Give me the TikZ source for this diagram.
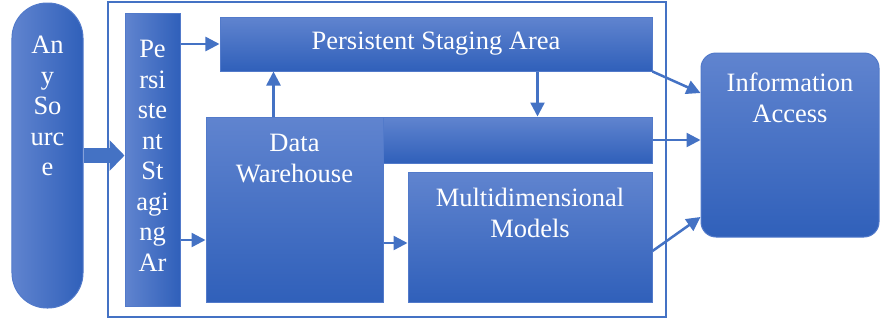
\documentclass[tikz,border=0pt]{standalone}
\usepackage{fontspec}
\setmainfont{Liberation Serif}
\usetikzlibrary{arrows.meta}
\definecolor{boxtop}{RGB}{96,132,207}
\definecolor{boxbot}{RGB}{48,96,186}
\definecolor{boxedge}{RGB}{82,122,202}
\definecolor{linkblue}{RGB}{68,114,196}

\begin{document}
\begin{tikzpicture}[x=1bp, y=-1bp,
  box/.style={draw=boxedge, line width=1bp, top color=boxtop, bottom color=boxbot, inner sep=0pt},
  sidebox/.style={draw=boxedge, line width=1bp, left color=boxtop, right color=boxbot, inner sep=0pt},
  txt/.style={text=white, align=center, font=\fontsize{26.5bp}{30.5bp}\selectfont, inner sep=0pt},
  link/.style={draw=linkblue, line width=2.5bp, -{Triangle[length=14bp, width=14bp]}}]
\useasboundingbox (0,0) rectangle (880,320);
\draw[linkblue, line width=1.5bp](108, 2) rectangle (666, 317);
\node[sidebox, rounded corners=35bp, minimum width=71bp, minimum height=305bp] (src) at (47.5, 155.5) {};
\node[sidebox, minimum width=55bp, minimum height=293bp] (psv) at (152.5, 159.5) {};
\node[box, txt, minimum width=432bp, minimum height=54bp] (psa) at (436, 44) {Persistent Staging Area};
\node[box, minimum width=269bp, minimum height=46bp] (bar) at (517.5, 140) {};
\node[box, minimum width=177bp, minimum height=185bp] (dw) at (294.5, 209.5) {};
\node[box, minimum width=244bp, minimum height=130bp] (mm) at (530, 237) {};
\node[box, rounded corners=15bp, minimum width=178bp, minimum height=184bp] (ia) at (790, 145) {};
\node[txt, anchor=base] (srctext) at ([yshift=-173bp]src.north) {An\\y\\So\\urc\\e};
\node[txt, anchor=base] (psvtext) at ([yshift=-258.5bp]psv.north) {Pe\\rsi\\ste\\nt\\St\\agi\\ng\\Ar};
\node[txt, anchor=base] (dwtext) at ([yshift=-65.5bp]dw.north) {Data\\Warehouse};
\node[txt, anchor=base] (mmtext) at ([yshift=-65.5bp]mm.north) {Multidimensional\\Models};
\node[txt, anchor=base] (iatext) at ([yshift=-69.5bp]ia.north) {Information\\Access};
\draw[linkblue, line width=15bp, -{Triangle[length=15bp, width=30bp]}](src.east) -- (src.east -| psv.west);
\draw[link](psv.east |- psa.west) -- (psa.west);
\draw[link]([yshift=-3bp]psv.east |- mm.west) -- ([yshift=-3bp]dw.west |- mm.west);
\draw[link]([yshift=-6bp]dw.east |- mm.west) -- ([yshift=-6bp]mm.west);
\draw[link]([xshift=-21bp]dw.north) -- ([xshift=-21bp]dw.north |- psa.south);
\draw[link]([xshift=20bp]bar.north |- psa.south) -- ([xshift=20bp]bar.north);
\draw[link](psa.south east) -- ([yshift=52bp]ia.west);
\draw[link](bar.east) -- (bar.east -| ia.west);
\draw[link]([yshift=-14bp]mm.east) -- ([yshift=-72bp]ia.west);
\end{tikzpicture}
\end{document}
